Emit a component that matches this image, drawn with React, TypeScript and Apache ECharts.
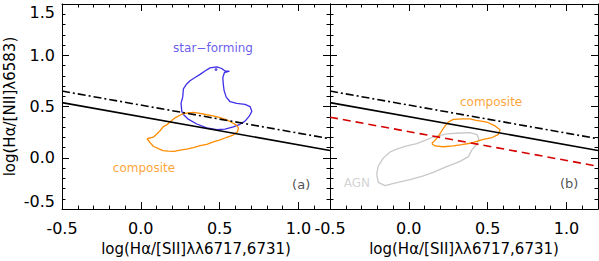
import React, { useEffect, useRef } from "react";
import * as echarts from "echarts";

const X_MIN = -0.5;
const X_MAX = 1.2;
const Y_MIN = -0.5;
const Y_MAX = 1.5;
const xTitle = "log(Hα/[SII]λλ6717,6731)";
const yTitle = "log(Hα/[NII]λ6583)";

// demarcation lines (two end points each)
const solidLine: number[][] = [[-0.5, 0.538], [1.2, 0.072]];
const dashDotLine: number[][] = [[-0.5, 0.651], [1.2, 0.186]];
const redDashLine: number[][] = [[-0.5, 0.396], [1.2, -0.082]];

// panel (a) contours
const starFormingContour: number[][] = [
  [0.407, 0.846], [0.439, 0.877], [0.482, 0.887], [0.513, 0.871], [0.534, 0.846],
  [0.562, 0.846], [0.53, 0.83], [0.52, 0.783], [0.523, 0.72], [0.528, 0.658],
  [0.541, 0.594], [0.566, 0.547], [0.608, 0.531], [0.661, 0.522], [0.693, 0.5],
  [0.704, 0.453], [0.688, 0.406], [0.661, 0.358], [0.629, 0.327], [0.587, 0.302],
  [0.534, 0.28], [0.482, 0.274], [0.418, 0.292], [0.355, 0.33], [0.301, 0.377],
  [0.27, 0.422], [0.26, 0.453], [0.255, 0.531], [0.266, 0.594], [0.27, 0.673],
  [0.291, 0.72], [0.312, 0.752], [0.344, 0.783], [0.376, 0.814], [0.407, 0.846],
];
const starFormingDot: number[][] = [[0.477, 0.861]];
const compositeContourA: number[][] = [
  [0.039, 0.186], [0.079, 0.201], [0.101, 0.233], [0.122, 0.264], [0.141, 0.302],
  [0.164, 0.321], [0.185, 0.349], [0.217, 0.39], [0.26, 0.425], [0.299, 0.439],
  [0.333, 0.443], [0.376, 0.434], [0.418, 0.42], [0.458, 0.41], [0.503, 0.392],
  [0.541, 0.373], [0.577, 0.344], [0.604, 0.321], [0.619, 0.292], [0.614, 0.255],
  [0.585, 0.222], [0.541, 0.198], [0.503, 0.175], [0.46, 0.156], [0.418, 0.132],
  [0.376, 0.118], [0.333, 0.099], [0.291, 0.085], [0.249, 0.075], [0.211, 0.063],
  [0.173, 0.066], [0.141, 0.071], [0.111, 0.09], [0.079, 0.113], [0.058, 0.151],
  [0.039, 0.186],
];

// panel (b) contours
const compositeContourB: number[][] = [
  [0.145, 0.139], [0.166, 0.17], [0.187, 0.21], [0.209, 0.264], [0.23, 0.311],
  [0.251, 0.349], [0.282, 0.375], [0.346, 0.38], [0.388, 0.38], [0.42, 0.368],
  [0.494, 0.349], [0.547, 0.311], [0.579, 0.274], [0.566, 0.226], [0.528, 0.198],
  [0.473, 0.179], [0.431, 0.16], [0.388, 0.142], [0.336, 0.129], [0.282, 0.116],
  [0.219, 0.108], [0.166, 0.116], [0.145, 0.139],
];
const agnContour: number[][] = [
  [-0.204, -0.16], [-0.194, -0.082], [-0.162, -0.003], [-0.119, 0.057], [-0.077, 0.085],
  [-0.013, 0.116], [0.05, 0.139], [0.103, 0.17], [0.155, 0.203], [0.24, 0.233],
  [0.325, 0.242], [0.388, 0.245], [0.433, 0.226], [0.445, 0.179], [0.426, 0.123],
  [0.399, 0.075], [0.378, 0.012], [0.325, -0.035], [0.24, -0.085], [0.155, -0.142],
  [0.092, -0.176], [0.008, -0.212], [-0.077, -0.241], [-0.151, -0.271], [-0.194, -0.239],
  [-0.204, -0.16],
];

// text annotations in data coordinates
const annotationsA = [
  { text: "star−forming", x: 0.458, y: 1.075, color: "#3f2fe8", size: 12 },
  { text: "composite", x: 0.02, y: -0.1, color: "#ff8c00", size: 12 },
  { text: "(a)", x: 1.017, y: -0.262, color: "#222", size: 13 },
];
const annotationsB = [
  { text: "composite", x: 0.522, y: 0.547, color: "#ff8c00", size: 12 },
  { text: "AGN", x: -0.329, y: -0.245, color: "#c8c8c8", size: 12 },
  { text: "(b)", x: 1.017, y: -0.25, color: "#222", size: 13 },
];

const FONT = "DejaVu Sans";
const BLUE = "#3f2fe8";
const ORANGE = "#ff8c00";
const RED = "#d40000";
const GRAY = "#c8c8c8";

function fmtTick(v: number) {
  const r = Math.round(v * 2) / 2;
  if (Math.abs(r - v) > 1e-6) return "";
  return r.toFixed(1);
}

export default function App() {
  const ref = useRef<HTMLDivElement>(null);
  useEffect(() => {
    if (!ref.current) return;
    const chart = echarts.init(ref.current, null, { renderer: "svg" });
    const black = { color: "#000", width: 1 };

    const xAxes: any[] = [];
    const yAxes: any[] = [];
    [0, 1].forEach((g) => {
      xAxes.push({
        gridIndex: g, type: "value", min: X_MIN, max: X_MAX, interval: 0.5, position: "bottom",
        axisLine: { show: true, onZero: false, lineStyle: black },
        axisTick: { show: true, inside: true, length: 7, lineStyle: black },
        axisLabel: { show: true, formatter: fmtTick, showMaxLabel: false, fontSize: 16, color: "#000", margin: 11, fontFamily: FONT },
        splitLine: { show: false },
        name: xTitle, nameLocation: "middle", nameGap: 30,
        nameTextStyle: { fontSize: 15, color: "#000", fontFamily: FONT },
      });
      xAxes.push({
        gridIndex: g, type: "value", min: X_MIN, max: X_MAX, interval: 0.1, position: "bottom",
        axisLine: { show: false, onZero: false },
        axisTick: { show: true, inside: true, length: 3.5, lineStyle: black },
        axisLabel: { show: false }, splitLine: { show: false },
      });
      xAxes.push({
        gridIndex: g, type: "value", min: X_MIN, max: X_MAX, interval: 0.5, position: "top",
        axisLine: { show: true, onZero: false, lineStyle: black },
        axisTick: { show: true, inside: true, length: 7, lineStyle: black },
        axisLabel: { show: false }, splitLine: { show: false },
      });
      xAxes.push({
        gridIndex: g, type: "value", min: X_MIN, max: X_MAX, interval: 0.1, position: "top",
        axisLine: { show: false, onZero: false },
        axisTick: { show: true, inside: true, length: 3.5, lineStyle: black },
        axisLabel: { show: false }, splitLine: { show: false },
      });
      yAxes.push({
        gridIndex: g, type: "value", min: Y_MIN, max: Y_MAX, interval: 0.5, position: "left",
        axisLine: { show: true, onZero: false, lineStyle: black },
        axisTick: { show: true, inside: true, length: 7, lineStyle: black },
        minorTick: { show: true, splitNumber: 5, length: 3.5, lineStyle: black },
        axisLabel: {
          show: g === 0, formatter: fmtTick, fontSize: 16, color: "#000", margin: 7, fontFamily: FONT,
          verticalAlignMaxLabel: "top", verticalAlignMinLabel: "bottom",
        },
        splitLine: { show: false }, minorSplitLine: { show: false },
        name: g === 0 ? yTitle : "", nameLocation: "middle", nameGap: 45, nameRotate: 90,
        nameTextStyle: { fontSize: 15, color: "#000", fontFamily: FONT },
      });
      yAxes.push({
        gridIndex: g, type: "value", min: Y_MIN, max: Y_MAX, interval: 0.5, position: "right",
        axisLine: { show: true, onZero: false, lineStyle: black },
        axisTick: { show: true, inside: true, length: 7, lineStyle: black },
        minorTick: { show: true, splitNumber: 5, length: 3.5, lineStyle: black },
        axisLabel: { show: false },
        splitLine: { show: false }, minorSplitLine: { show: false },
      });
    });

    const line = (g: number, data: number[][], color: string, width: number, type: any, z = 2) => ({
      type: "line", xAxisIndex: g * 4, yAxisIndex: g * 2, data, showSymbol: false, symbol: "none",
      lineStyle: { color, width, type }, z, silent: true, clip: true,
    });
    const notes = (g: number, arr: typeof annotationsA) => ({
      type: "scatter", xAxisIndex: g * 4, yAxisIndex: g * 2, symbolSize: 1, z: 5, silent: true,
      itemStyle: { color: "rgba(0,0,0,0)" },
      data: arr.map((a) => ({
        value: [a.x, a.y],
        label: {
          show: true, position: "inside", formatter: a.text, color: a.color,
          fontSize: a.size, fontFamily: FONT,
        },
      })),
    });

    chart.setOption({
      animation: false,
      backgroundColor: "#fff",
      grid: [
        { left: 62, top: 4, width: 268, height: 212, containLabel: false },
        { left: 330, top: 4, width: 268, height: 212, containLabel: false },
      ],
      xAxis: xAxes,
      yAxis: yAxes,
      series: [
        line(0, starFormingContour, BLUE, 1.3, "solid"),
        line(0, compositeContourA, ORANGE, 1.3, "solid"),
        {
          type: "scatter", xAxisIndex: 0, yAxisIndex: 0, data: starFormingDot, symbolSize: 3,
          itemStyle: { color: BLUE }, silent: true,
        },
        line(0, solidLine, "#000", 1.6, "solid", 3),
        line(0, dashDotLine, "#000", 1.6, [8, 3, 2, 3], 3),
        notes(0, annotationsA),
        line(1, agnContour, GRAY, 1.3, "solid"),
        line(1, compositeContourB, ORANGE, 1.3, "solid"),
        line(1, redDashLine, RED, 1.6, [8, 5], 3),
        line(1, solidLine, "#000", 1.6, "solid", 3),
        line(1, dashDotLine, "#000", 1.6, [8, 3, 2, 3], 3),
        notes(1, annotationsB),
      ],
    });
    return () => chart.dispose();
  }, []);
  return (
    <div
      ref={ref}
      style={{ position: "fixed", left: 0, top: 0, width: 599, height: 261, background: "#fff" }}
    />
  );
}
